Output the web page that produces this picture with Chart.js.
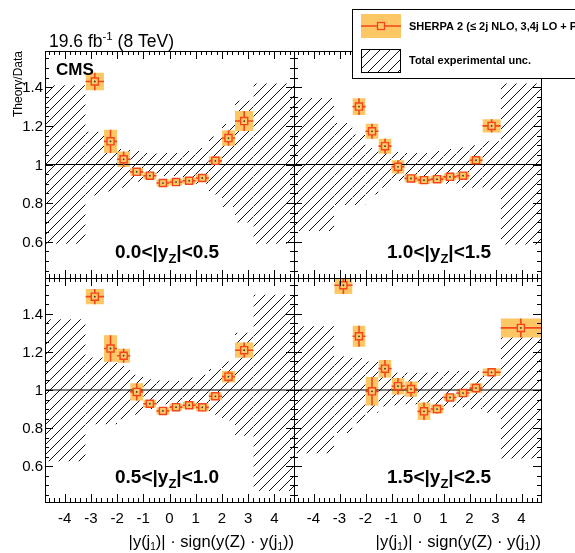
<!DOCTYPE html>
<html>
<head>
<meta charset="utf-8">
<script src="https://cdn.jsdelivr.net/npm/chart.js@4.4.1/dist/chart.umd.min.js"></script>
<style>
  html, body { margin: 0; padding: 0; background: #fff; }
  #wrap { position: relative; width: 575px; height: 553px; overflow: hidden; }
  #wrap canvas { position: absolute; left: 0; top: 0; }
</style>
</head>
<body>
<div id="wrap">
  <canvas id="panelA" width="575" height="553"></canvas>
  <canvas id="panelB" width="575" height="553"></canvas>
  <canvas id="panelC" width="575" height="553"></canvas>
  <canvas id="panelD" width="575" height="553"></canvas>
</div>
<script>
// Bin edges in |y(j1)| * sign(y(Z) * y(j1)), shared by all four rapidity panels
const binEdges = [-4.75, -3.2, -2.5, -2.0, -1.5, -1.0, -0.5, 0.0, 0.5, 1.0, 1.5, 2.0, 2.5, 3.2, 4.75];

// SHERPA / data ratio per bin (null = no point) and half height of the theory band
const ratioA = [null, 1.43, 1.12, 1.027, 0.962, 0.942, 0.904, 0.909, 0.916, 0.930, 1.019, 1.137, 1.225, null];
const errA   = [null, 0.045, 0.06, 0.04, 0.02, 0.018, 0.018, 0.017, 0.017, 0.018, 0.022, 0.04, 0.052, null];
const ratioB = [null, null, 1.30, 1.172, 1.095, 0.988, 0.928, 0.919, 0.924, 0.936, 0.942, 1.022, 1.20, null];
const errB   = [null, null, 0.043, 0.039, 0.039, 0.034, 0.02, 0.02, 0.018, 0.017, 0.018, 0.02, 0.034, null];
const ratioC = [null, 1.49, 1.218, 1.18, 0.99, 0.928, 0.89, 0.91, 0.92, 0.909, 0.967, 1.07, 1.209, null];
const errC   = [null, 0.04, 0.07, 0.037, 0.045, 0.02, 0.018, 0.018, 0.018, 0.02, 0.02, 0.03, 0.04, null];
const ratioD = [null, 1.55, 1.282, 0.993, 1.112, 1.02, 1.005, 0.888, 0.90, 0.961, 0.984, 1.01, 1.093, 1.326];
const errD   = [null, 0.046, 0.055, 0.075, 0.046, 0.043, 0.04, 0.046, 0.024, 0.018, 0.02, 0.025, 0.02, 0.05];

// Total experimental uncertainty band (low / high edge per bin)
const expLoA = [0.59, 0.84, 0.86, 0.88, 0.91, 0.93, 0.94, 0.94, 0.93, 0.90, 0.845, 0.78, 0.70, 0.59];
const expHiA = [1.41, 1.17, 1.13, 1.08, 1.07, 1.06, 1.06, 1.06, 1.07, 1.085, 1.145, 1.21, 1.33, 1.42];
const expLoB = [0.655, 0.79, 0.79, 0.845, 0.88, 0.915, 0.925, 0.93, 0.92, 0.90, 0.88, 0.88, 0.87, 0.586];
const expHiB = [1.345, 1.215, 1.155, 1.086, 1.07, 1.065, 1.06, 1.06, 1.07, 1.08, 1.09, 1.10, 1.12, 1.42];
const expLoC = [0.626, 0.82, 0.82, 0.846, 0.87, 0.90, 0.925, 0.933, 0.92, 0.89, 0.87, 0.84, 0.76, 0.47];
const expHiC = [1.372, 1.17, 1.16, 1.126, 1.08, 1.056, 1.05, 1.047, 1.065, 1.08, 1.11, 1.15, 1.30, 1.50];
const expLoD = [0.668, 0.774, 0.826, 0.88, 0.914, 0.92, 0.925, 0.92, 0.91, 0.91, 0.91, 0.90, 0.88, 0.64];
const expHiD = [1.335, 1.177, 1.168, 1.15, 1.125, 1.09, 1.09, 1.09, 1.095, 1.10, 1.10, 1.10, 1.11, 1.37];

const rapidityBins = [['0.0', '0.5'], ['1.0', '1.5'], ['0.5', '1.0'], ['1.5', '2.5']];
const xTickLabels = [-4, -3, -2, -1, 0, 1, 2, 3, 4];
const yTickLabels = [0.6, 0.8, 1, 1.2, 1.4];

const X_MIN = -4.75, X_MAX = 4.75, Y_MIN = 0.412, Y_MAX = 1.588;
const FONT = "'Liberation Sans', Arial, Helvetica, sans-serif";
const ORANGE = '#fdc766';
const RED = '#f2451c';

function makeHatch() {
  const s = 10;
  const c = document.createElement('canvas');
  c.width = s; c.height = s;
  const g = c.getContext('2d');
  g.strokeStyle = '#111';
  g.lineWidth = 1;
  g.beginPath();
  g.moveTo(-1, s + 1); g.lineTo(s + 1, -1);
  g.moveTo(-1, 1); g.lineTo(1, -1);
  g.moveTo(s - 1, s + 1); g.lineTo(s + 1, s - 1);
  g.stroke();
  return g.createPattern(c, 'repeat');
}
const hatch = makeHatch();

function buildDatasets(ratio, err, lo, hi) {
  const sets = [];
  const markers = [];
  const bars = [];
  ratio.forEach((v, i) => {
    const x0 = binEdges[i], x1 = binEdges[i + 1];
    // hatched experimental band
    sets.push({
      data: [{x: x0, y: hi[i]}, {x: x1, y: hi[i]}],
      fill: {value: lo[i]},
      backgroundColor: hatch,
      borderColor: 'transparent', borderWidth: 0, pointRadius: 0, order: 5
    });
    if (v === null) return;
    const c = (x0 + x1) / 2;
    // theory uncertainty box
    sets.push({
      data: [{x: x0, y: v + err[i]}, {x: x1, y: v + err[i]}],
      fill: {value: v - err[i]},
      backgroundColor: ORANGE,
      borderColor: 'transparent', borderWidth: 0, pointRadius: 0, order: 4
    });
    markers.push({x: c, y: v});
    bars.push({x: c, y: v - err[i]}, {x: c, y: v + err[i]}, {x: c, y: null},
              {x: x0, y: v}, {x: x1, y: v}, {x: x1, y: null});
  });
  sets.push({
    data: [{x: X_MIN, y: 1}, {x: X_MAX, y: 1}],
    borderColor: '#000', borderWidth: 1.2, pointRadius: 0, fill: false, order: 3
  });
  sets.push({
    data: bars, borderColor: RED, borderWidth: 1.6, pointRadius: 0, fill: false, spanGaps: false, order: 2
  });
  sets.push({
    data: markers, showLine: false, pointStyle: 'rect', pointRadius: 5,
    pointBackgroundColor: ORANGE, pointBorderColor: RED, pointBorderWidth: 1.4, order: 1
  });
  sets.push({
    data: markers, showLine: false, pointStyle: 'circle', pointRadius: 0.9,
    pointBackgroundColor: '#333', pointBorderWidth: 0, order: 0
  });
  return sets;
}

// ROOT style frame with inward ticks on all four sides
function drawFrame(chart) {
  const {ctx, chartArea: a, scales: {x, y}} = chart;
  ctx.save();
  ctx.strokeStyle = '#000';
  ctx.lineWidth = 1;
  ctx.beginPath();
  for (let k = -46; k <= 46; k += 2) {
    const px = Math.round(x.getPixelForValue(k / 10)) + 0.5;
    const len = (k % 10 === 0) ? 8 : 4;
    ctx.moveTo(px, a.bottom); ctx.lineTo(px, a.bottom - len);
    ctx.moveTo(px, a.top); ctx.lineTo(px, a.top + len);
  }
  for (let k = 45; k <= 155; k += 5) {
    const py = Math.round(y.getPixelForValue(k / 100)) + 0.5;
    const len = (k % 20 === 0) ? 8 : 4;
    ctx.moveTo(a.left, py); ctx.lineTo(a.left + len, py);
    ctx.moveTo(a.right, py); ctx.lineTo(a.right - len, py);
  }
  ctx.stroke();
  ctx.strokeRect(a.left + 0.5, a.top + 0.5, a.right - a.left, a.bottom - a.top);
  ctx.restore();
}

function drawRangeLabel(ctx, x, y, r) {
  ctx.fillStyle = '#000';
  ctx.textAlign = 'left';
  ctx.textBaseline = 'alphabetic';
  ctx.font = 'bold 19px ' + FONT;
  let t = r[0] + '<|y';
  ctx.fillText(t, x, y);
  x += ctx.measureText(t).width;
  ctx.font = 'bold 13px ' + FONT;
  ctx.fillText('Z', x, y + 5);
  x += ctx.measureText('Z').width;
  ctx.font = 'bold 19px ' + FONT;
  ctx.fillText('|<' + r[1], x, y);
}

function drawYLabels(chart) {
  const {ctx, scales: {y}} = chart;
  ctx.fillStyle = '#000';
  ctx.font = '15px ' + FONT;
  ctx.textAlign = 'right';
  ctx.textBaseline = 'middle';
  yTickLabels.forEach(v => ctx.fillText(String(v), 43, y.getPixelForValue(v) + 1));
}

function drawXLabels(chart) {
  const {ctx, chartArea: a, scales: {x}} = chart;
  ctx.fillStyle = '#000';
  ctx.font = '15px ' + FONT;
  ctx.textAlign = 'center';
  ctx.textBaseline = 'middle';
  xTickLabels.forEach(v => ctx.fillText(String(v), x.getPixelForValue(v), 519));
  // axis title, right aligned at the frame edge
  const parts = [['|y(j', 0], ['1', 1], [')| \u00b7 sign(y(Z) \u00b7 y(j', 0], ['1', 1], ['))', 0]];
  const setFont = sub => { ctx.font = (sub ? '10px ' : '16.5px ') + FONT; };
  let w = 0;
  parts.forEach(p => { setFont(p[1]); w += ctx.measureText(p[0]).width; });
  let px = a.right - w;
  ctx.textAlign = 'left';
  ctx.textBaseline = 'alphabetic';
  parts.forEach(p => {
    setFont(p[1]);
    ctx.fillText(p[0], px, p[1] ? 550 : 547);
    px += ctx.measureText(p[0]).width;
  });
}

function drawHeader(ctx) {
  ctx.fillStyle = '#000';
  ctx.textAlign = 'left';
  ctx.textBaseline = 'alphabetic';
  ctx.font = '17.5px ' + FONT;
  let x = 49;
  ctx.fillText('19.6 fb', x, 47);
  x += ctx.measureText('19.6 fb').width;
  ctx.font = '11.5px ' + FONT;
  ctx.fillText('-1', x, 40);
  x += ctx.measureText('-1').width;
  ctx.font = '17.5px ' + FONT;
  ctx.fillText(' (8 TeV)', x, 47);

  ctx.font = 'bold 17px ' + FONT;
  ctx.fillText('CMS', 56, 75);

  ctx.save();
  ctx.translate(22, 51);
  ctx.rotate(-Math.PI / 2);
  ctx.font = '12px ' + FONT;
  ctx.textAlign = 'right';
  ctx.fillText('Theory/Data', 0, 0);
  ctx.restore();
}

function drawLegend(ctx) {
  ctx.save();
  ctx.fillStyle = '#fff';
  ctx.fillRect(352, 9, 240, 70);
  ctx.strokeStyle = '#000';
  ctx.lineWidth = 1;
  ctx.strokeRect(352.5, 9.5, 240, 69);

  ctx.fillStyle = ORANGE;
  ctx.fillRect(361, 14, 40, 24);
  ctx.strokeStyle = RED;
  ctx.lineWidth = 1.5;
  ctx.beginPath(); ctx.moveTo(361, 26); ctx.lineTo(401, 26); ctx.stroke();
  ctx.fillStyle = ORANGE;
  ctx.fillRect(377.5, 22.5, 7, 7);
  ctx.lineWidth = 1.3;
  ctx.strokeRect(377.5, 22.5, 7, 7);

  ctx.fillStyle = hatch;
  ctx.fillRect(361, 49, 40, 24);
  ctx.strokeStyle = '#000';
  ctx.lineWidth = 1;
  ctx.strokeRect(361.5, 49.5, 39, 23);

  ctx.fillStyle = '#000';
  ctx.font = 'bold 11px ' + FONT;
  ctx.textAlign = 'left';
  ctx.textBaseline = 'alphabetic';
  ctx.fillText('SHERPA 2 (\u2264 2j NLO, 3,4j LO + PS)', 409, 30);
  ctx.fillText('Total experimental unc.', 409, 64);
  ctx.restore();
}

const extras = {
  panelA(chart) { drawYLabels(chart); drawHeader(chart.ctx); drawRangeLabel(chart.ctx, 115, 258, rapidityBins[0]); },
  panelB(chart) { drawRangeLabel(chart.ctx, 387, 258, rapidityBins[1]); },
  panelC(chart) { drawYLabels(chart); drawXLabels(chart); drawRangeLabel(chart.ctx, 115, 483, rapidityBins[2]); },
  panelD(chart) { drawXLabels(chart); drawRangeLabel(chart.ctx, 387, 483, rapidityBins[3]); drawLegend(chart.ctx); }
};

const decorPlugin = {
  id: 'decor',
  afterDatasetsDraw(chart) { drawFrame(chart); },
  afterDraw(chart) {
    const f = extras[chart.canvas.id];
    if (f) { chart.ctx.save(); f(chart); chart.ctx.restore(); }
  }
};

function makePanel(id, pad, ratio, err, lo, hi) {
  return new Chart(document.getElementById(id), {
    type: 'line',
    data: { datasets: buildDatasets(ratio, err, lo, hi) },
    options: {
      responsive: false,
      animation: false,
      devicePixelRatio: 1,
      layout: { padding: pad },
      plugins: { legend: { display: false }, tooltip: { enabled: false } },
      elements: { line: { tension: 0 } },
      scales: {
        x: { type: 'linear', min: X_MIN, max: X_MAX, display: false },
        y: { type: 'linear', min: Y_MIN, max: Y_MAX, display: false }
      }
    },
    plugins: [decorPlugin]
  });
}

makePanel('panelA', {left: 45, right: 281, top: 51, bottom: 275}, ratioA, errA, expLoA, expHiA);
makePanel('panelB', {left: 294, right: 34, top: 51, bottom: 275}, ratioB, errB, expLoB, expHiB);
makePanel('panelC', {left: 45, right: 281, top: 278, bottom: 51}, ratioC, errC, expLoC, expHiC);
makePanel('panelD', {left: 294, right: 34, top: 278, bottom: 51}, ratioD, errD, expLoD, expHiD);
</script>
</body>
</html>
